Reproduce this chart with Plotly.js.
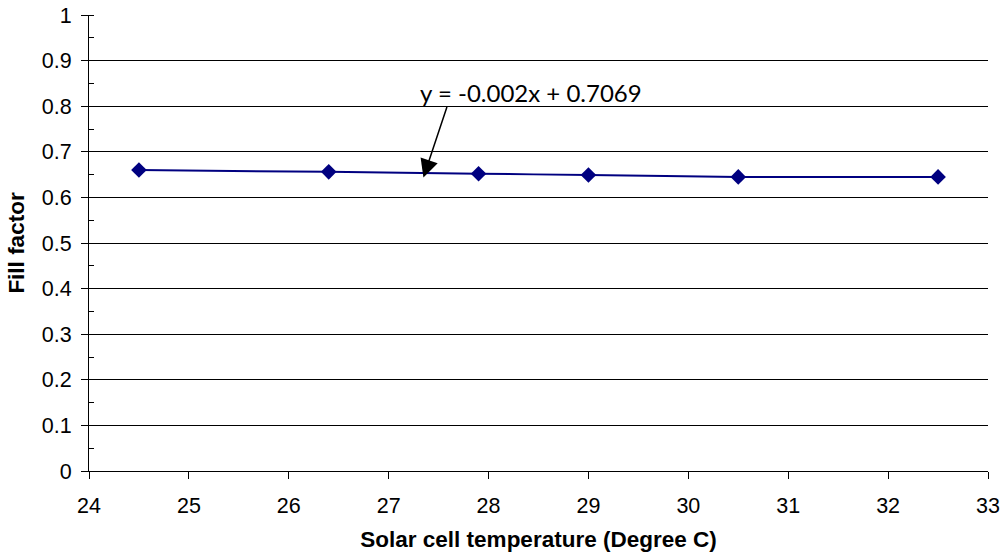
<!DOCTYPE html>
<html>
<head>
<meta charset="utf-8">
<script src="https://cdn.plot.ly/plotly-3.0.1.min.js"></script>
<style>html,body{margin:0;padding:0;background:#fff;}#chart{width:1005px;height:558px;}</style>
</head>
<body>
<div id="chart"></div>
<script>
// Data
const temperature = [24.5, 26.4, 27.9, 29.0, 30.5, 32.5];
const fillFactor = [0.660, 0.656, 0.652, 0.649, 0.645, 0.645];
const trendText = "y = -0.002x + 0.7069";
const xTitle = "Solar cell temperature (Degree C)";
const yTitle = "Fill factor";

const trace = {
  x: temperature,
  y: fillFactor,
  type: "scatter",
  mode: "lines+markers",
  line: {color: "#000080", width: 2, shape: "spline", smoothing: 0.6},
  marker: {symbol: "diamond", size: 12, color: "#000080"},
  hoverinfo: "x+y"
};

const layout = {
  width: 1005,
  height: 558,
  margin: {l: 89, r: 17, t: 15, b: 87},
  paper_bgcolor: "#ffffff",
  plot_bgcolor: "#ffffff",
  showlegend: false,
  font: {family: "Liberation Sans, Arial, sans-serif", color: "#000000", size: 21.5},
  xaxis: {
    range: [24, 33],
    dtick: 1,
    tick0: 24,
    showgrid: false,
    zeroline: false,
    showline: true,
    linecolor: "#000000",
    linewidth: 1,
    ticks: "outside",
    ticklen: 7,
    tickcolor: "#000000",
    tickfont: {size: 21.5},
    ticklabelstandoff: 8,
    title: {text: "<b>" + xTitle + "</b>", font: {size: 22.5, family: "Liberation Sans, Arial, sans-serif"}, standoff: 14}
  },
  yaxis: {
    range: [0, 1],
    dtick: 0.1,
    tick0: 0,
    showgrid: true,
    gridcolor: "#000000",
    gridwidth: 1,
    zeroline: false,
    showline: true,
    linecolor: "#000000",
    linewidth: 1,
    ticks: "outside",
    ticklen: 7,
    tickcolor: "#000000",
    tickfont: {size: 21.5},
    ticklabelstandoff: 5,
    minor: {dtick: 0.05, ticks: "inside", ticklen: 5, tickcolor: "#000000", showgrid: false},
    title: {text: "<b>" + yTitle + "</b>", font: {size: 22.5, family: "Liberation Sans, Arial, sans-serif"}, standoff: 10}
  },
  annotations: [
    {
      x: 27.348, y: 0.6436, xref: "x", yref: "y",
      text: "",
      showarrow: true,
      arrowhead: 2, arrowsize: 2.4, arrowwidth: 1.5, arrowcolor: "#000000",
      ax: 24, ay: -72, axref: "pixel", ayref: "pixel"
    },
    {
      x: 27.29, y: 0.829, xref: "x", yref: "y",
      xanchor: "left", yanchor: "middle",
      text: trendText,
      showarrow: false,
      font: {family: "Lato, Open Sans, sans-serif", size: 24, color: "#000000"}
    }
  ]
};

Plotly.newPlot("chart", [trace], layout, {displayModeBar: false, staticPlot: true});
</script>
</body>
</html>
